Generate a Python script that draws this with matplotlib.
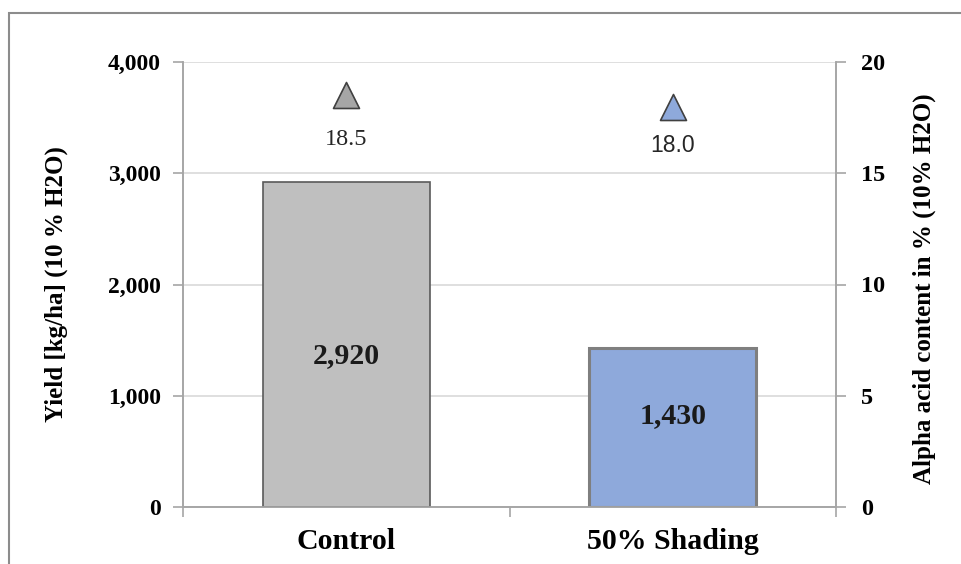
import matplotlib.pyplot as plt
from matplotlib.patches import Rectangle

categories = ['Control', '50% Shading']
yield_kg = [2920, 1430]
alpha_acid = [18.5, 18.0]
yield_labels = ['2,920', '1,430']
alpha_labels = ['18.5', '18.0']
yield_ticks = [0, 1000, 2000, 3000, 4000]
yield_ticklabels = ['0', '1,000', '2,000', '3,000', '4,000']
alpha_ticks = [0, 5, 10, 15, 20]

bar_colors = ['#BFBFBF', '#8EA9DB']
bar_edges = ['#5A5A5A', '#7F7F7F']
marker_colors = ['#A6A6A6', '#8EA9DB']

serif = 'Liberation Serif'

fig = plt.figure(figsize=(9.62, 5.64), dpi=100)
W, H = 962, 564
ax = fig.add_axes([183 / W, 1 - 507 / H, (836 - 183) / W, (507 - 62) / H])

x = [0, 1]
label_shift = [-95, 110]  # value labels sit a bit off the bar middle
for i in x:
    ax.bar(i, yield_kg[i], width=0.51, color=bar_colors[i], edgecolor=bar_edges[i],
           linewidth=1.2 if i == 0 else 2.2, zorder=3)
    ax.text(i, yield_kg[i] / 2 + label_shift[i], yield_labels[i], ha='center', va='center',
            fontsize=21.5, fontweight='bold', family=serif, color='#1a1a1a', zorder=4)

ax.set_xlim(-0.5, 1.5)
ax.set_ylim(0, 4000)
ax.set_yticks(yield_ticks)
ax.set_yticklabels(yield_ticklabels, fontsize=17, fontweight='bold', family=serif)
ax.grid(axis='y', color='#D9D9D9', linewidth=1.2, zorder=0)
ax.set_xticks([-0.5, 0.5, 1.5], minor=True)
ax.set_xticks(x)
ax.set_xticklabels(categories, fontsize=21.5, fontweight='bold', family=serif)
ax.tick_params(axis='x', which='major', length=0, pad=15)
ax.tick_params(axis='x', which='minor', length=7, color='#A6A6A6', width=1.2)
ax.tick_params(axis='y', length=7, color='#A6A6A6', width=1.2, pad=9)
ax.spines['top'].set_visible(False)
for s in ['left', 'bottom', 'right']:
    ax.spines[s].set_color('#A6A6A6')
    ax.spines[s].set_linewidth(1.2)
ax.set_ylabel('Yield [kg/ha] (10 % H2O)', fontsize=18, fontweight='bold', family=serif)
ax.yaxis.set_label_coords(-0.176, 0.5)

ax2 = ax.twinx()
ax2.set_ylim(0, 20)
ax2.set_yticks(alpha_ticks)
ax2.set_yticklabels([str(t) for t in alpha_ticks], fontsize=17.5, fontweight='bold', family=serif)
ax2.tick_params(axis='y', length=7, color='#A6A6A6', width=1.2, pad=11)
ax2.spines['top'].set_visible(False)
for s in ['left', 'bottom', 'right']:
    ax2.spines[s].set_color('#A6A6A6')
    ax2.spines[s].set_linewidth(1.2)
ax2.set_ylabel('Alpha acid content in % (10% H2O)', fontsize=18, fontweight='bold', family=serif)
ax2.yaxis.set_label_coords(1.118, 0.49)

for i in x:
    ax2.scatter(i, alpha_acid[i], marker='^', s=350, color=marker_colors[i],
                edgecolor='#404040', linewidth=1.2, zorder=5)
ax2.text(0, alpha_acid[0] - 2.0, alpha_labels[0], ha='center', va='center',
         fontsize=17.5, family=serif, color='#262626')
ax2.text(1, alpha_acid[1] - 1.75, alpha_labels[1], ha='center', va='center',
         fontsize=16.5, family='Liberation Sans', color='#262626')

fig.patches.append(Rectangle((9 / W, -0.1), 1.2, 1 - 13 / H + 0.1, transform=fig.transFigure,
                             fill=False, edgecolor='#8C8C8C', linewidth=1.5))

fig.savefig('out.png', dpi=100)
